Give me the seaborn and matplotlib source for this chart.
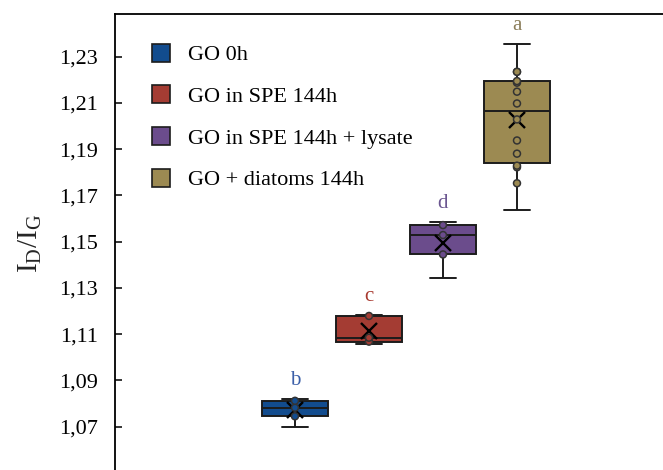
import numpy as np
import pandas as pd
import matplotlib
matplotlib.use("Agg")
import matplotlib.pyplot as plt
import seaborn as sns
from matplotlib.lines import Line2D

# Data (I_D/I_G ratios per treatment)
groups = ["GO 0h", "GO in SPE 144h", "GO in SPE 144h + lysate", "GO + diatoms 144h"]
go_0h = [1.0700, 1.0745, 1.0782, 1.0812, 1.0820]
go_spe = [1.1056, 1.1068, 1.1085, 1.1179, 1.1182]
go_lysate = [1.1342, 1.1445, 1.1529, 1.1572, 1.1587]
go_diatoms = [1.1637, 1.1753, 1.1822, 1.1829, 1.1881, 1.1938, 1.2029,
              1.2098, 1.2149, 1.2188, 1.2195, 1.2235, 1.2235, 1.2356]
letters = ["b", "c", "d", "a"]
colors = ["#124C8E", "#A43C33", "#6B4C8C", "#9C8A52"]
letter_colors = ["#3B5FA8", "#A83A30", "#6B5690", "#8B7D5A"]
y_ticks = [1.07, 1.09, 1.11, 1.13, 1.15, 1.17, 1.19, 1.21, 1.23]
y_tick_labels = ["1,07", "1,09", "1,11", "1,13", "1,15", "1,17", "1,19", "1,21", "1,23"]

values = [go_0h, go_spe, go_lysate, go_diatoms]
df = pd.DataFrame({
    "group": np.repeat(groups, [len(v) for v in values]),
    "value": np.concatenate(values),
})
# like Excel's "inner points": the min and max sit on the whisker caps, not drawn
gmin = df.groupby("group")["value"].transform("min")
gmax = df.groupby("group")["value"].transform("max")
inner = df[(df["value"] > gmin) & (df["value"] < gmax)]

sns.set_style("white")
plt.rcParams["font.family"] = ["Liberation Serif", "DejaVu Serif"]
plt.rcParams["text.color"] = "black"
plt.rcParams["ytick.color"] = "black"

fig = plt.figure(figsize=(6.63, 4.70), dpi=100)
# axes run past the right and bottom edge, as in the cropped original
ax = fig.add_axes([115 / 663, -10 / 470, 585 / 663, 466 / 470])

edge = "#1c1c1c"
sns.boxplot(data=df, x="group", y="value", hue="group", palette=colors,
            order=groups, hue_order=groups, width=0.88, whis=(0, 100),
            showfliers=False, showmeans=True, saturation=1,
            meanprops=dict(marker="x", markersize=12, markeredgecolor="black",
                           markeredgewidth=1.7),
            linecolor=edge, linewidth=1.4, capwidths=0.34,
            legend=False, ax=ax)
sns.stripplot(data=inner, x="group", y="value", hue="group", palette=colors,
              order=groups, hue_order=groups, jitter=False, size=5,
              linewidth=1.1, edgecolor="#333333", legend=False, ax=ax, zorder=4)

for i, (let, col) in enumerate(zip(letters, letter_colors)):
    ax.annotate(let, xy=(i, max(values[i])), xytext=(0, 10),
                textcoords="offset points", ha="center", va="baseline",
                fontsize=15, color=col)

ax.set_xlim(-2.432, 5.473)
ax.set_ylim(1.04695, 1.2485)
ax.set_xticks([])
ax.set_xlabel("")
ax.set_yticks(y_ticks)
ax.set_yticklabels(y_tick_labels)
ax.tick_params(axis="y", direction="in", length=5, width=1.1, pad=12,
               labelsize=16, left=True, labelcolor="black")
for s in ax.spines.values():
    s.set_color("black")
    s.set_linewidth(1.3)

ax.set_ylabel(r"I$_\mathregular{D}$/I$_\mathregular{G}$", fontsize=21)
ax.yaxis.set_label_coords(-0.1216, 0.508)

handles = [Line2D([0], [0], marker="s", linestyle="none", markersize=13,
                  markerfacecolor=c, markeredgecolor=edge, markeredgewidth=1.2)
           for c in colors]
ax.legend(handles, groups, loc="upper left", bbox_to_anchor=(0.0615, 0.934),
          frameon=False, fontsize=16, handlelength=0.9, handletextpad=0.75,
          labelspacing=0.95, borderpad=0, borderaxespad=0)

fig.savefig("out.png", dpi=100)
